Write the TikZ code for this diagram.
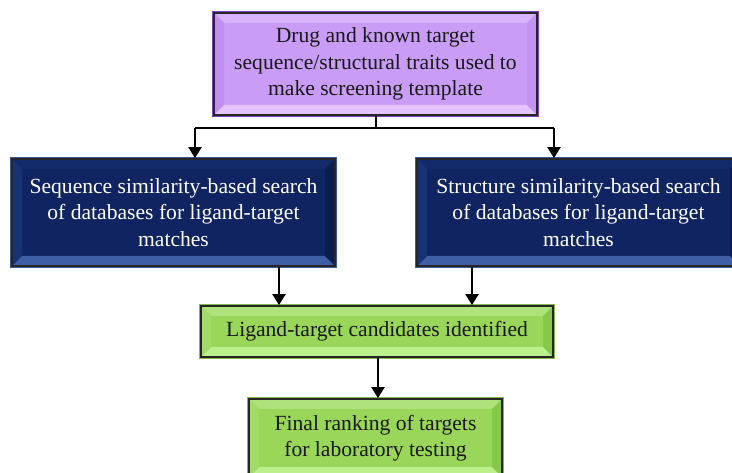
\documentclass[tikz,border=0pt]{standalone}
\usepackage{fontspec}
\setmainfont{Liberation Serif}
\usetikzlibrary{arrows.meta}
\definecolor{pBase}{HTML}{C99CF6}
\definecolor{pTop}{HTML}{D5B2FA}
\definecolor{pLeft}{HTML}{BF90F0}
\definecolor{pBot}{HTML}{E3C4FF}
\definecolor{pRight}{HTML}{C293F2}
\definecolor{pRing}{HTML}{8040C0}
\definecolor{bBase}{HTML}{102461}
\definecolor{bTop}{HTML}{132A6A}
\definecolor{bLeft}{HTML}{183372}
\definecolor{bBot}{HTML}{3E5EA6}
\definecolor{bRight}{HTML}{0B1C4E}
\definecolor{bRing}{HTML}{3A5A9A}
\definecolor{gBase}{HTML}{99D65A}
\definecolor{gTop}{HTML}{AEE27A}
\definecolor{gLeft}{HTML}{A2DC66}
\definecolor{gBot}{HTML}{BCF08C}
\definecolor{gRight}{HTML}{88C848}
\definecolor{gRing}{HTML}{80BA48}
\newcommand\bevpic[5]{%
 \fill[#2] (path picture bounding box.north west) -- (path picture bounding box.north east)
   -- ([xshift=-#1,yshift=-#1]path picture bounding box.north east) -- ([xshift=#1,yshift=-#1]path picture bounding box.north west) -- cycle;
 \fill[#3] (path picture bounding box.south west) -- (path picture bounding box.south east)
   -- ([xshift=-#1,yshift=#1]path picture bounding box.south east) -- ([xshift=#1,yshift=#1]path picture bounding box.south west) -- cycle;
 \fill[#4] (path picture bounding box.north west) -- (path picture bounding box.south west)
   -- ([xshift=#1,yshift=#1]path picture bounding box.south west) -- ([xshift=#1,yshift=-#1]path picture bounding box.north west) -- cycle;
 \fill[#5] (path picture bounding box.north east) -- (path picture bounding box.south east)
   -- ([xshift=-#1,yshift=#1]path picture bounding box.south east) -- ([xshift=-#1,yshift=-#1]path picture bounding box.north east) -- cycle;
}
\tikzset{
 bevel/.style n args={6}{fill=#1, path picture={\bevpic{10pt}{#2}{#3}{#4}{#5}},
   preaction={draw=#6, line width=4pt}, draw=black!85, line width=1.8pt,
   align=center, inner sep=0pt, font=\fontsize{21.6}{26.5}\selectfont},
 purplebox/.style={bevel={pBase}{pTop}{pBot}{pLeft}{pRight}{pRing}, text=black!90},
 bluebox/.style={bevel={bBase}{bTop}{bBot}{bLeft}{bRight}{bRing}, text=white},
 greenbox/.style={bevel={gBase}{gTop}{gBot}{gLeft}{gRight}{gRing}, text=black!90},
 conn/.style={line width=2.4pt, black},
 arr/.style={conn, -{Triangle[width=13pt,length=11pt]}}
}
\begin{document}
\begin{tikzpicture}[x=1pt,y=-1pt]
\useasboundingbox (0,0) rectangle (732,473);
\node[purplebox, minimum width=323pt, minimum height=102pt] (top) at (375.5,64)
  {Drug and known target\\sequence/structural traits used to\\make screening template};
\node[bluebox, minimum width=323pt, minimum height=107pt] (seq) at (173.5,212.5)
  {Sequence similarity-based search\\of databases for ligand-target\\matches};
\node[bluebox, minimum width=323pt, minimum height=107pt] (str) at (578.5,212.5)
  {Structure similarity-based search\\of databases for ligand-target\\matches};
\node[greenbox, minimum width=352pt, minimum height=51pt] (cand) at (377,331.5)
  {Ligand-target candidates identified};
\node[greenbox, minimum width=253pt, minimum height=78pt] (final) at (375.5,438)
  {Final ranking of targets\\for laboratory testing};
\coordinate (j) at (376,128);
\coordinate (jl) at (195,128);
\coordinate (jr) at (554,128);
\draw[conn] (top.south -| j) -- (j);
\draw[conn] (jl) -- (jr);
\draw[arr] (jl) -- (jl |- seq.north);
\draw[arr] (jr) -- (jr |- str.north);
\draw[arr] (279,266) coordinate (s1) (s1 |- seq.south) -- (s1 |- cand.north);
\draw[arr] (472,266) coordinate (s2) (s2 |- str.south) -- (s2 |- cand.north);
\draw[arr] (378,357) coordinate (s3) (s3 |- cand.south) -- (s3 |- final.north);
\end{tikzpicture}
\end{document}
